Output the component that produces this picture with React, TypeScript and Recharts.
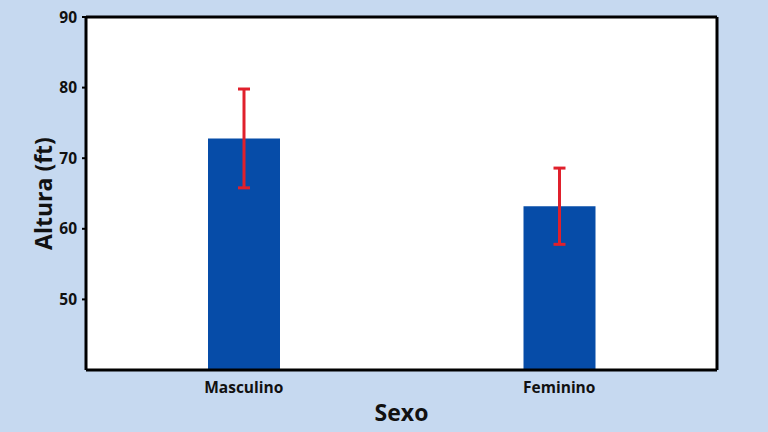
import React from "react";
import { BarChart, Bar, XAxis, YAxis, CartesianGrid, ErrorBar, Label } from "recharts";

const categories = ["Masculino", "Feminino"];
const alturas = [72.8, 63.2];
const erros = [7.0, 5.4];
const yTicks = [50, 60, 70, 80, 90];

const data = categories.map((c, i) => ({ sexo: c, altura: alturas[i], erro: erros[i] }));

const FONT = "'Open Sans', sans-serif";

export default function App() {
  return (
    <div style={{ position: "absolute", left: 0, top: 0, width: 768, height: 432, background: "#c6d9f0" }}>
      <BarChart
        width={768}
        height={432}
        data={data}
        margin={{ top: 17, right: 51, bottom: 0, left: 0 }}
        style={{ fontFamily: FONT }}
      >
        <CartesianGrid
          fill="#ffffff"
          stroke="#000"
          strokeWidth={3}
          horizontalCoordinatesGenerator={({ offset }: any) => [offset.top]}
          verticalCoordinatesGenerator={({ offset }: any) => [offset.left + offset.width]}
        />
        <XAxis
          dataKey="sexo"
          height={62}
          axisLine={{ stroke: "#000", strokeWidth: 3 }}
          tickLine={false}
          tickMargin={6}
          tick={{ fill: "#111", fontSize: 15.5, fontWeight: 700, fontFamily: FONT }}
        >
          <Label value="Sexo" position="insideBottom" offset={11} style={{ fill: "#111", fontSize: 23, fontWeight: 700, fontFamily: FONT }} />
        </XAxis>
        <YAxis
          domain={[40, 90]}
          ticks={yTicks}
          width={86}
          allowDataOverflow
          axisLine={{ stroke: "#000", strokeWidth: 3 }}
          tickLine={{ stroke: "#000", strokeWidth: 2 }}
          tickSize={4}
          tickMargin={5}
          tick={{ fill: "#111", fontSize: 15.5, fontWeight: 700, fontFamily: FONT }}
        >
          <Label value="Altura (ft)" angle={-90} position="insideLeft" offset={44} style={{ textAnchor: "middle", fill: "#111", fontSize: 23, fontWeight: 700, fontFamily: FONT }} />
        </YAxis>
        <Bar dataKey="altura" fill="#064ca8" barSize={72} isAnimationActive={false}>
          <ErrorBar dataKey="erro" width={6} stroke="#e0202c" strokeWidth={3} direction="y" />
        </Bar>
      </BarChart>
    </div>
  );
}
